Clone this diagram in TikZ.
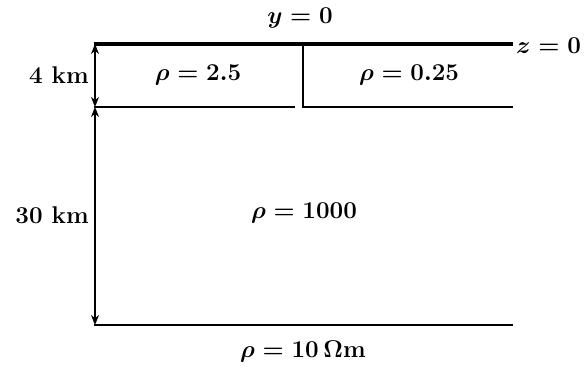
\documentclass[tikz,border=0pt]{standalone}
\usetikzlibrary{arrows.meta}
\newcommand\biglbl[1]{\scalebox{1.4}{\fontsize{17.28}{20}\selectfont\bfseries\boldmath #1}}
\begin{document}
\begin{tikzpicture}[x=1pt,y=-1pt,
  lbl/.style={inner sep=0pt},
  surface/.style={line width=3.4pt},
  layer/.style={line width=2.2pt},
  dimline/.style={line width=1.8pt, {Stealth[length=10pt,width=8pt]}-{Stealth[length=10pt,width=8pt]}}]
\useasboundingbox (0,0) rectangle (585,371);
% geometry
\coordinate (tl) at (94,44);
\coordinate (tr) at (513,44);
\coordinate (ml) at (94,107);
\coordinate (mm1) at (295,107);
\coordinate (mm2) at (303,107);
\coordinate (mr) at (513,107);
\coordinate (dt) at (303,44);
\coordinate (bl) at (94,325);
\coordinate (br) at (513,325);
\coordinate (at) at (95,44);
\coordinate (am) at (95,107);
\coordinate (ab) at (95,325);
% lines
\draw[surface] (tl) -- (tr);
\draw[layer] (ml) -- (mm1);
\draw[layer] (dt) -- (mm2) -- (mr);
\draw[layer] (bl) -- (br);
\draw[dimline] (at) -- (am);
\draw[dimline] (am) -- (ab);
% labels
\node[lbl] (y0) at (300,18) {\biglbl{$y = 0$}};
\node[lbl, anchor=west] (z0) at (516,46) {\biglbl{$z = 0$}};
\node[lbl, anchor=east] (km4) at (89,75) {\biglbl{4 km}};
\node[lbl, anchor=east] (km30) at (89,215) {\biglbl{30 km}};
\node[lbl] (r1) at (198,75) {\biglbl{$\rho = 2.5$}};
\node[lbl] (r2) at (409,75) {\biglbl{$\rho = 0.25$}};
\node[lbl] (r3) at (304,213) {\biglbl{$\rho = 1000$}};
\node[lbl] (r4) at (303,352) {\biglbl{$\rho = 10\,\mathbf{\Omega}\mathrm{m}$}};
\end{tikzpicture}
\end{document}
